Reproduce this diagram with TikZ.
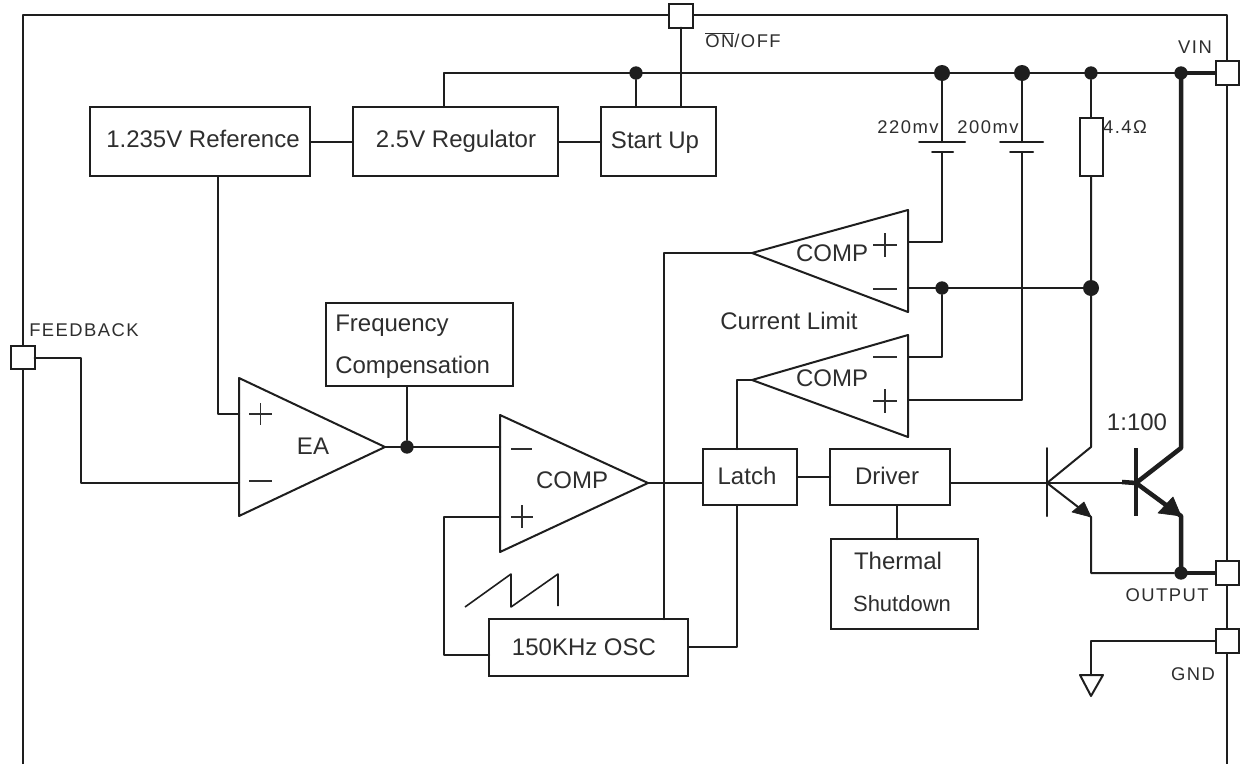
\documentclass[tikz,border=0pt]{standalone}
\usepackage{fontspec}
\setmainfont{Liberation Sans}
\newfontfamily\pinfont[LetterSpace=8]{Liberation Sans}
\definecolor{ink}{HTML}{1E1E1E}
\definecolor{txt}{HTML}{2E2E2E}
\tikzset{
  x=0.75pt,y=-0.75pt,
  wire/.style={draw=ink,line width=1.5pt,line cap=round,line join=round},
  thin wire/.style={draw=ink,line width=1.2pt},
  heavy/.style={draw=ink,line width=3.4pt,line join=round},
  block/.style={draw=ink,line width=1.5pt,fill=white,inner sep=0pt,outer sep=0pt,anchor=north west},
  pin/.style={draw=ink,line width=1.5pt,fill=white,inner sep=0pt,outer sep=0pt,minimum width=17.5pt,minimum height=17.5pt},
  label/.style={text=txt,inner sep=0pt,font=\fontsize{18}{21}\selectfont},
  small/.style={text=txt,inner sep=0pt,font=\pinfont\fontsize{13.8}{16}\selectfont},
  dot/.style={fill=ink,draw=none,circle,inner sep=0pt,minimum size=10pt},
  bigdot/.style={dot,minimum size=12pt},
  sign/.style={draw=txt,line width=1.2pt},
  tip/.style={fill=ink,draw=ink,line width=.5pt,line join=round},
}
\newcommand{\boxnode}[6]{\node[block,minimum width=#4*0.75pt,minimum height=#5*0.75pt] (#1) at (#2,#3) {#6};}
\begin{document}
\begin{tikzpicture}
\useasboundingbox (0,0) rectangle (1241,764);
\fill[white] (0,0) rectangle (1241,764);
% frame
\draw[wire,line cap=butt] (23,764) -- (23,15) -- (1227,15) -- (1227,764);
% pins
\node[pin] (pinon) at (681,16) {};
\node[pin] (pinvin) at (1227.5,73) {};
\node[pin] (pinout) at (1227.5,573) {};
\node[pin] (pingnd) at (1227.5,641) {};
\node[pin] (pinfb) at (23,357.5) {};
% blocks
\boxnode{ref}{90}{107}{220}{69}{}
\boxnode{reg}{353}{107}{205}{69}{}
\boxnode{start}{601}{107}{115}{69}{}
\boxnode{freq}{326}{303}{187}{83}{}
\boxnode{latch}{703}{449}{94}{56}{}
\boxnode{driver}{830}{449}{120}{56}{}
\boxnode{thermal}{831}{539}{147}{90}{}
\boxnode{osc}{489}{619}{199}{57}{}
\boxnode{res}{1079.5}{118}{23}{58}{}
% amplifiers
\draw[wire,fill=white] (239,378) coordinate (eatop) -- (385,447) coordinate (eaout) -- (239,516) coordinate (eabot) -- cycle;
\draw[wire,fill=white] (500,415) -- (648,483) coordinate (cmpout) -- (500,552) -- cycle;
\draw[wire,fill=white] (908,210) -- (752,253) coordinate (upout) -- (908,312) -- cycle;
\draw[wire,fill=white] (908,335) -- (752,380) coordinate (loout) -- (908,437) -- cycle;
% junctions and bends
\coordinate (eain) at (239,414);
\coordinate (fbin) at (239,483);
\coordinate (cmpm) at (500,447);
\coordinate (cmpp) at (500,517);
\coordinate (upp) at (908,242);
\coordinate (upm) at (908,288);
\coordinate (lom) at (908,357);
\coordinate (lop) at (908,400);
\node[dot] (jfb) at (407,447) {};
\node[dot] (j1) at (636,73) {};
\node[bigdot] (j2) at (942,73) {};
\node[bigdot] (j3) at (1022,73) {};
\node[dot] (j4) at (1091,73) {};
\node[dot] (j5) at (1181,73) {};
\node[dot] (j6) at (942,288) {};
\node[bigdot] (j7) at (1091,288) {};
\node[dot] (j8) at (1181,573) {};
\coordinate (q1b) at (1047,483);
\coordinate (q1c) at (1091,447);
\coordinate (q1e) at (1091,517);
\coordinate (q2b) at (1136,483);
\coordinate (q2c) at (1181,448);
\coordinate (q2e) at (1181,516);
% wires
\draw[wire] (444,73) -- (j5.center);
\draw[wire] (444,73) -- (444,0 |- reg.north);
\draw[wire] (j1) -- (j1|-start.north);
\draw[wire] (pinon) -- (pinon|-start.north);
\draw[wire] (ref.east) -- (reg.west);
\draw[wire] (reg.east) -- (start.west);
\draw[wire] (218,0 |- ref.south) -- (218,414) -- (eain);
\draw[wire] (pinfb.east) -- (81,357.5) -- (81,483) -- (fbin);
\draw[wire] (eaout) -- (cmpm);
\draw[wire] (jfb) -- (jfb|-freq.south);
\draw[wire] (cmpp) -- (444,517) -- (444,655) -- (osc.west |- 0,655);
\draw[wire] (cmpout) -- (latch.west|-cmpout);
\draw[wire] (upout) -- (664,253) -- (664,0 |- osc.north);
\draw[wire] (loout) -- (737,380) -- (737,0 |- latch.north);
\draw[wire] (737,0 |- latch.south) -- (737,647) -- (osc.east |- 0,647);
\draw[wire] (latch.east) -- (driver.west);
\draw[wire] (897,0 |- driver.south) -- (897,0 |- thermal.north);
\draw[wire] (driver.east|-q1b) -- (q2b);
% battery branches
\draw[wire] (j2) -- (942,142);
\draw[wire] (919,142) -- (965,142);
\draw[wire] (932,152) -- (953,152);
\draw[wire] (942,152) -- (942,242) -- (upp);
\draw[wire] (j3) -- (1022,142);
\draw[wire] (1000,142) -- (1043,142);
\draw[wire] (1010,152) -- (1033,152);
\draw[wire] (1022,152) -- (1022,400) -- (lop);
% sense
\draw[wire] (j4) -- (res.north);
\draw[wire] (res.south) -- (q1c) -- (q1b);
\draw[wire] (upm) -- (j7);
\draw[wire] (j6) -- (942,357) -- (lom);
% transistors
\draw[wire] (1047,448) -- (1047,516);
\draw[wire] (q1b) -- (q1e) -- (1091,573) -- (j8);
\fill[tip] (1091,517) -- (1072,512) -- (1084,502) -- cycle;
\draw[line width=2.6pt,draw=ink] (1136,448) -- (1136,516);
\draw[heavy] (j5.center) -- (1181,448) -- (q2b) -- (q2e) -- (j8.center);
\fill[tip] (1181,516) -- (1158,513) -- (1173,497) -- cycle;
\draw[heavy] (1122,482) -- (q2b);
\draw[heavy] (j5.center) -- (pinvin.west);
\draw[heavy] (j8.center) -- (pinout.west);
% ground
\draw[wire] (pingnd.west) -- (1091,641) -- (1091,675);
\draw[wire] (1080,675) -- (1103,675) -- (1091,696) -- cycle;
% sawtooth
\draw[thin wire,line join=round] (465,607) -- (511,574) -- (511,607) -- (558,574) -- (558,606);
% signs
\draw[sign] (249,414) -- (272,414) (260.5,403) -- (260.5,425);
\draw[sign] (249,481) -- (272,481);
\draw[sign] (511,449) -- (532,449);
\draw[sign] (511,517) -- (533,517) (522,505) -- (522,528);
\draw[sign] (873,245) -- (897,245) (885,233) -- (885,257);
\draw[sign] (873,289) -- (897,289);
\draw[sign] (873,357) -- (897,357);
\draw[sign] (873,401) -- (897,401) (885,389) -- (885,413);
% texts
\node[label] (t1) at (203,139) {1.235V Reference};
\node[label] (t2) at (456,141) {2.5V Regulator};
\node[label] (t3) at (655,143) {Start Up};
\node[label,anchor=west] (t4) at (335,326) {Frequency};
\node[label,anchor=west] (t5) at (335,367) {Compensation};
\node[label] (t6) at (313,446) {EA};
\node[label] (t7) at (572,480) {COMP};
\node[label] (t8) at (832,253) {COMP};
\node[label] (t9) at (832,378) {COMP};
\node[label] (t10) at (789,321) {Current Limit};
\node[label] (t11) at (747,476) {Latch};
\node[label] (t12) at (887,476) {Driver};
\node[label] (t13) at (898,561) {Thermal};
\node[label,font=\fontsize{16.5}{20}\selectfont] (t14) at (902,604) {Shutdown};
\node[label] (t15) at (584,647) {150KHz OSC};
\node[label] (t16) at (1137,422) {1:100};
\node[small] (t17) at (1195,47) {VIN};
\node[small] (t18) at (743,40) {$\overline{\mbox{ON}}$/OFF};
\node[small] (t19) at (84,330) {FEEDBACK};
\node[small] (t20) at (1167,595) {OUTPUT};
\node[small] (t21) at (1193,674) {GND};
\node[small] (t22) at (908,127) {220mv};
\node[small] (t23) at (988,127) {200mv};
\node[small] (t24) at (1125,127) {4.4Ω};
\end{tikzpicture}
\end{document}
